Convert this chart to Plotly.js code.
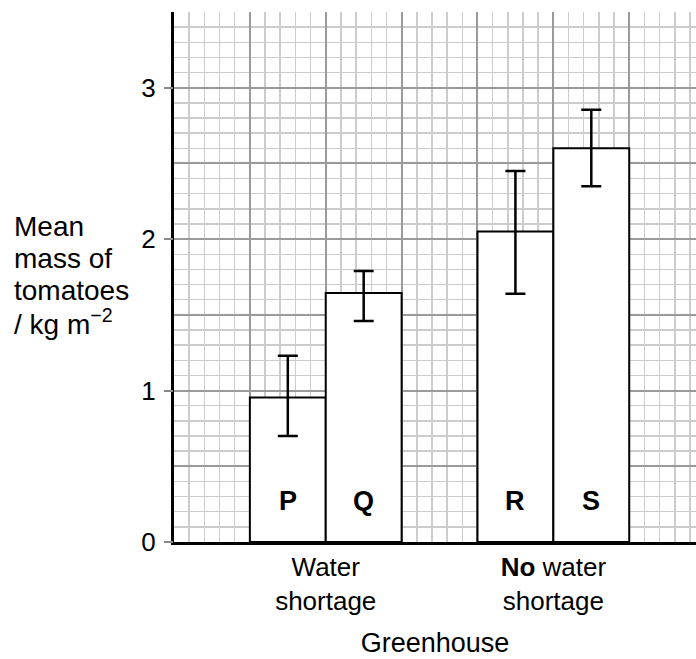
<!DOCTYPE html>
<html>
<head>
<meta charset="utf-8">
<script src="https://cdn.plot.ly/plotly-3.0.1.min.js"></script>
<style>html,body{margin:0;padding:0;background:#fff;}#chart{width:696px;height:659px;}</style>
</head>
<body>
<div id="chart"></div>
<script>
// ---- data ----
var barLabels = ['P', 'Q', 'R', 'S'];
var barX = [1.5, 2.5, 4.5, 5.5];
var meanMass = [0.955, 1.645, 2.05, 2.60];
var errPlus = [0.275, 0.145, 0.40, 0.255];
var errMinus = [0.255, 0.185, 0.41, 0.25];
var xTickVals = [0, 1, 2, 3, 4, 5, 6];
var xTickText = ['', '', 'Water<br>shortage', '', '', '<b>No</b> water<br>shortage', ''];
var yGridVals = [0, 0.5, 1, 1.5, 2, 2.5, 3, 3.5];
var yGridText = ['0', '', '1', '', '2', '', '3', ''];
var yTickVals = [0, 1, 2, 3];
var yTitleLines = ['Mean', 'mass of', 'tomatoes', '/ kg m<sup>\u22122</sup>'];
var labelLevel = 0.27;

var FONT = 'Liberation Sans, Arial, Helvetica, sans-serif';

var traces = [
  {
    type: 'bar',
    x: barX,
    y: meanMass,
    width: 1,
    marker: {color: '#ffffff', line: {color: '#000000', width: 2}},
    error_y: {type: 'data', symmetric: false, array: errPlus, arrayminus: errMinus,
              color: '#000000', thickness: 2.5, width: 10},
    hoverinfo: 'skip',
    showlegend: false
  },
  {
    type: 'scatter', x: [], y: [], xaxis: 'x', yaxis: 'y2',
    showlegend: false, hoverinfo: 'skip'
  }
];

var annotations = barLabels.map(function (t, i) {
  return {x: barX[i], y: labelLevel, xref: 'x', yref: 'y', text: '<b>' + t + '</b>',
          showarrow: false, font: {family: FONT, size: 27, color: '#000'}};
});
yTitleLines.forEach(function (line, i) {
  annotations.push({
    xref: 'paper', yref: 'paper', x: 0, y: 0.505, xanchor: 'left', yanchor: 'middle',
    xshift: -162, yshift: (1.5 - i) * 32, align: 'left', showarrow: false,
    text: line,
    font: {family: FONT, size: 28, color: '#000'}
  });
});

var layout = {
  width: 696, height: 659,
  margin: {l: 174, r: 0, t: 12, b: 117},
  paper_bgcolor: '#ffffff', plot_bgcolor: '#ffffff',
  font: {family: FONT, color: '#000'},
  showlegend: false,
  bargap: 0,
  xaxis: {
    range: [0, 6.88], fixedrange: true,
    tickmode: 'array', tickvals: xTickVals, ticktext: xTickText,
    ticks: '', ticklabelstandoff: 0,
    tickfont: {family: FONT, size: 26, color: '#000'},
    showgrid: true, gridcolor: '#9a9a9a', gridwidth: 2,
    minor: {dtick: 0.2, showgrid: true, gridcolor: '#cccccc', gridwidth: 1.5},
    showline: true, linecolor: '#000', linewidth: 3,
    zeroline: false,
    title: {text: 'Greenhouse', font: {family: FONT, size: 27, color: '#000'}, standoff: 19}
  },
  yaxis: {
    range: [0, 3.5], fixedrange: true,
    tickmode: 'array', tickvals: yGridVals, ticktext: yGridText,
    ticks: '', ticklabelstandoff: 10,
    tickfont: {family: FONT, size: 26, color: '#000'},
    showgrid: true, gridcolor: '#9a9a9a', gridwidth: 2,
    minor: {dtick: 0.1, showgrid: true, gridcolor: '#cccccc', gridwidth: 1.5},
    showline: true, linecolor: '#000', linewidth: 3,
    zeroline: false
  },
  yaxis2: {
    overlaying: 'y', side: 'left', anchor: 'x',
    range: [0, 3.5], fixedrange: true,
    tickmode: 'array', tickvals: yTickVals,
    ticks: 'outside', ticklen: 9, tickwidth: 2, tickcolor: '#888888',
    showticklabels: false, showgrid: false, zeroline: false, showline: false
  },
  annotations: annotations
};

Plotly.newPlot('chart', traces, layout, {displayModeBar: false, staticPlot: true});
</script>
</body>
</html>
